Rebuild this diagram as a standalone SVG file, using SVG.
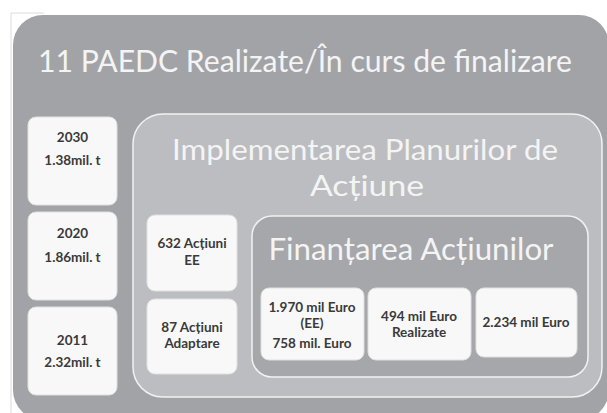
<svg xmlns="http://www.w3.org/2000/svg" width="607" height="413" viewBox="0 0 607 413">
<style>
.card{fill:#f8f8f8;stroke:#e0e0e0;stroke-width:1}
.ct{font-family:Lato,"Liberation Sans",sans-serif;font-size:13.5px;font-weight:700;fill:#3a3a3a;text-anchor:middle}
.big{font-family:Lato,"Open Sans",sans-serif;fill:#f4f4f4;text-anchor:middle}
</style>
<rect x="0" y="0" width="607" height="413" fill="#ffffff"/>
<path d="M44 13 H11 V413" fill="none" stroke="#dcdcdc" stroke-width="1"/>
<g id="outer">
<rect x="13" y="15" width="596" height="405" rx="30" fill="#a2a3a7"/>
<text class="big" x="305" y="72" font-size="31" textLength="534" lengthAdjust="spacingAndGlyphs">11 PAEDC Realizate/În curs de finalizare</text>
</g>
<g id="y2030"><rect class="card" x="28" y="117" width="89" height="88" rx="8"/>
<text class="ct" x="72.5" y="142">2030</text><text class="ct" x="72.5" y="165">1.38mil. t</text></g>
<g id="y2020"><rect class="card" x="28" y="212" width="89" height="88" rx="8"/>
<text class="ct" x="72.5" y="238">2020</text><text class="ct" x="72.5" y="262">1.86mil. t</text></g>
<g id="y2011"><rect class="card" x="28" y="307" width="89" height="88" rx="8"/>
<text class="ct" x="72.5" y="345">2011</text><text class="ct" x="72.5" y="367">2.32mil. t</text></g>
<g id="implementare">
<rect x="133" y="114" width="469" height="283" rx="30" fill="#bcbdc0" stroke="#f2f2f2" stroke-width="1.5"/>
<text class="big" x="365" y="160" font-size="29" textLength="386" lengthAdjust="spacingAndGlyphs">Implementarea Planurilor de</text>
<text class="big" x="367" y="196" font-size="29" textLength="114" lengthAdjust="spacingAndGlyphs">Acțiune</text>
</g>
<g id="ee"><rect class="card" x="147" y="215" width="90" height="76" rx="8"/>
<text class="ct" x="192" y="248">632 Acțiuni</text><text class="ct" x="192" y="265">EE</text></g>
<g id="adaptare"><rect class="card" x="147" y="299" width="90" height="75" rx="8"/>
<text class="ct" x="192" y="332">87 Acțiuni</text><text class="ct" x="192" y="348">Adaptare</text></g>
<g id="finantare">
<rect x="252" y="216" width="336" height="161" rx="20" fill="#a6a7aa" stroke="#f2f2f2" stroke-width="1.5"/>
<text class="big" x="411" y="260" font-size="31" textLength="285" lengthAdjust="spacingAndGlyphs">Finanțarea Acțiunilor</text>
</g>
<g id="f1"><rect class="card" x="261" y="288" width="103" height="72" rx="8"/>
<text class="ct" x="312" y="312">1.970 mil Euro</text><text class="ct" x="312" y="328">(EE)</text><text class="ct" x="312" y="348">758 mil. Euro</text></g>
<g id="f2"><rect class="card" x="368" y="288" width="103" height="72" rx="8"/>
<text class="ct" x="419" y="321">494 mil Euro</text><text class="ct" x="419" y="337">Realizate</text></g>
<g id="f3"><rect class="card" x="476" y="288" width="101" height="69" rx="8"/>
<text class="ct" x="526" y="327">2.234 mil Euro</text></g>
<g id="connectors"/>
</svg>
